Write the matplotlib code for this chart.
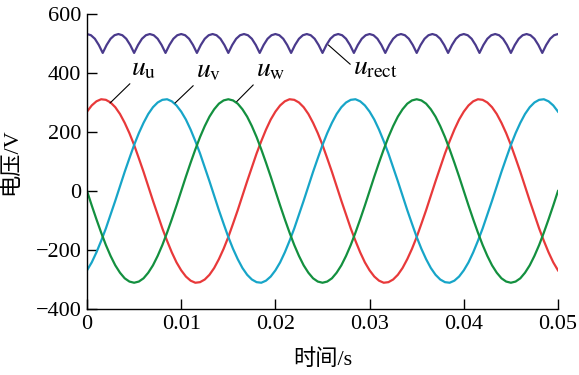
import numpy as np
import matplotlib
matplotlib.use("Agg")
import matplotlib.pyplot as plt

plt.rcParams["font.family"] = "Liberation Serif"
plt.rcParams["mathtext.fontset"] = "stix"
plt.rcParams["axes.unicode_minus"] = True

# phase voltages, one sample every 0.5 ms
T_PHASE = np.arange(101) * 0.0005
U_U = [269, 290, 304, 311, 309, 300, 284, 261, 231, 196,
       156, 111, 65, 16, -33, -80, -127, -169, -208, -242,
       -269, -290, -304, -311, -309, -300, -284, -261, -231, -196,
       -156, -111, -65, -16, 33, 80, 127, 169, 208, 242,
       269, 290, 304, 311, 309, 300, 284, 261, 231, 196,
       156, 111, 65, 16, -33, -80, -127, -169, -208, -242,
       -269, -290, -304, -311, -309, -300, -284, -261, -231, -196,
       -156, -111, -65, -16, 33, 80, 127, 169, 208, 242,
       269, 290, 304, 311, 309, 300, 284, 261, 231, 196,
       156, 111, 65, 16, -33, -80, -127, -169, -208, -242,
       -269]
U_V = [-269, -242, -208, -169, -127, -80, -33, 16, 65, 111,
       156, 196, 231, 261, 284, 300, 309, 311, 304, 290,
       269, 242, 208, 169, 127, 80, 33, -16, -65, -111,
       -156, -196, -231, -261, -284, -300, -309, -311, -304, -290,
       -269, -242, -208, -169, -127, -80, -33, 16, 65, 111,
       156, 196, 231, 261, 284, 300, 309, 311, 304, 290,
       269, 242, 208, 169, 127, 80, 33, -16, -65, -111,
       -156, -196, -231, -261, -284, -300, -309, -311, -304, -290,
       -269, -242, -208, -169, -127, -80, -33, 16, 65, 111,
       156, 196, 231, 261, 284, 300, 309, 311, 304, 290,
       269]
U_W = [0, -49, -96, -141, -183, -220, -252, -277, -296, -307,
       -311, -307, -296, -277, -252, -220, -183, -141, -96, -49,
       0, 49, 96, 141, 183, 220, 252, 277, 296, 307,
       311, 307, 296, 277, 252, 220, 183, 141, 96, 49,
       0, -49, -96, -141, -183, -220, -252, -277, -296, -307,
       -311, -307, -296, -277, -252, -220, -183, -141, -96, -49,
       0, 49, 96, 141, 183, 220, 252, 277, 296, 307,
       311, 307, 296, 277, 252, 220, 183, 141, 96, 49,
       0, -49, -96, -141, -183, -220, -252, -277, -296, -307,
       -311, -307, -296, -277, -252, -220, -183, -141, -96, -49,
       0]

# rectified voltage, one sample every 1/2400 s
T_RECT = np.arange(121) / 2400
U_RECT = [532, 528, 516, 495, 468, 495, 516, 528,
          532, 528, 516, 495, 468, 495, 516, 528,
          532, 528, 516, 495, 468, 495, 516, 528,
          532, 528, 516, 495, 468, 495, 516, 528,
          532, 528, 516, 495, 468, 495, 516, 528,
          532, 528, 516, 495, 468, 495, 516, 528,
          532, 528, 516, 495, 468, 495, 516, 528,
          532, 528, 516, 495, 468, 495, 516, 528,
          532, 528, 516, 495, 468, 495, 516, 528,
          532, 528, 516, 495, 468, 495, 516, 528,
          532, 528, 516, 495, 468, 495, 516, 528,
          532, 528, 516, 495, 468, 495, 516, 528,
          532, 528, 516, 495, 468, 495, 516, 528,
          532, 528, 516, 495, 468, 495, 516, 528,
          532, 528, 516, 495, 468, 495, 516, 528,
          532]

XTICKS = [0, 0.01, 0.02, 0.03, 0.04, 0.05]
XTICK_LABELS = ["0", "0.01", "0.02", "0.03", "0.04", "0.05"]
YTICKS = [-400, -200, 0, 200, 400, 600]

fig = plt.figure(figsize=(5.79, 3.75), dpi=100)
ax = fig.add_axes([0.1503, 0.176, 0.8134, 0.7867])

ax.plot(T_RECT, U_RECT, color="#4a3a8c", lw=1.6)
ax.plot(T_PHASE, U_U, color="#e8393a", lw=1.6)
ax.plot(T_PHASE, U_V, color="#17a5c8", lw=1.6)
ax.plot(T_PHASE, U_W, color="#13903f", lw=1.6)

# labels with leader lines
lead = dict(arrowstyle="-", color="black", lw=0.8, shrinkA=0, shrinkB=0)
ax.annotate(r"$u_{\mathrm{u}}$", xy=(0.00244, 298), xytext=(0.00472, 373),
            ha="left", va="bottom", fontsize=20,
            arrowprops=dict(lead, relpos=(0.05, 0.0)))
ax.annotate(r"$u_{\mathrm{v}}$", xy=(0.00934, 298), xytext=(0.01157, 366),
            ha="left", va="bottom", fontsize=20,
            arrowprops=dict(lead, relpos=(0.0, 0.0)))
ax.annotate(r"$u_{\mathrm{w}}$", xy=(0.01589, 303), xytext=(0.01794, 369),
            ha="left", va="bottom", fontsize=20,
            arrowprops=dict(lead, relpos=(0.0, 0.0)))
ax.annotate(r"$u_{\mathrm{rect}}$", xy=(0.02562, 495), xytext=(0.02824, 417),
            ha="left", va="center", fontsize=20,
            arrowprops=dict(lead, relpos=(0.0, 0.55)))

ax.set_xlim(0, 0.05)
ax.set_ylim(-400, 600)
ax.set_xticks(XTICKS)
ax.set_xticklabels(XTICK_LABELS)
ax.set_yticks(YTICKS)
ax.tick_params(direction="in", length=7, width=1, labelsize=16, pad=4)
ax.spines["top"].set_visible(False)
ax.spines["right"].set_visible(False)
for s in ("left", "bottom"):
    ax.spines[s].set_linewidth(1)

label_font = ["Liberation Serif", "Noto Sans CJK SC"]
ax.set_xlabel("时间/s", fontsize=16, labelpad=11, family=label_font)
ax.set_ylabel("电压/V", fontsize=16, labelpad=10, family=label_font)

fig.savefig("out.png", dpi=100)
